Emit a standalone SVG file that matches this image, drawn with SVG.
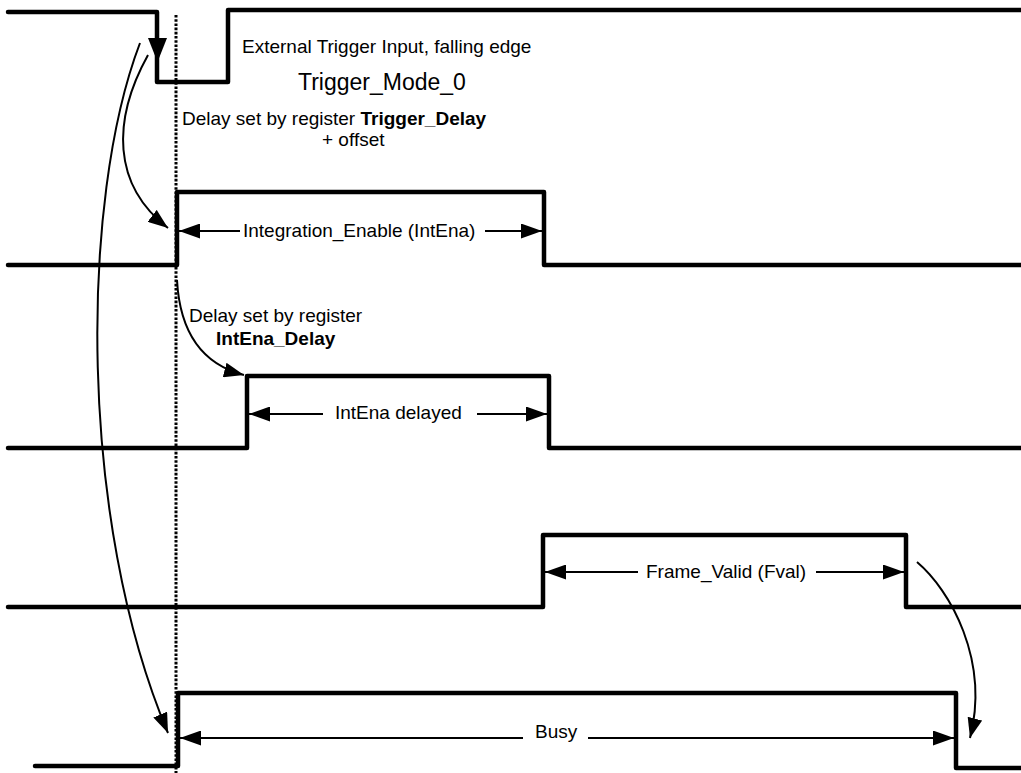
<svg xmlns="http://www.w3.org/2000/svg" width="1021" height="773" viewBox="0 0 1021 773">
<style>
.sig{fill:none;stroke:#000;stroke-width:4.5;stroke-linejoin:round;stroke-linecap:round}
.dim{fill:none;stroke:#000;stroke-width:2}
.cur{fill:none;stroke:#000;stroke-width:2}
.dot{fill:none;stroke:#000;stroke-width:3;stroke-dasharray:2.6 1.6}
text{font-family:"Liberation Sans",Arial,sans-serif;font-size:19px;fill:#000}
.b{font-weight:bold}
</style>
<defs>
<marker id="ad" markerUnits="userSpaceOnUse" markerWidth="21" markerHeight="15" refX="21" refY="7.5" orient="auto"><path d="M0,0 L21,7.5 L0,15 z" fill="#000"/></marker>
<marker id="ac" markerUnits="userSpaceOnUse" markerWidth="20" markerHeight="15" refX="20" refY="7.5" orient="auto"><path d="M0,0 L20,7.5 L0,15 z" fill="#000"/></marker>
</defs>
<g id="timeline-dotted">
<line class="dot" x1="176" y1="15" x2="176" y2="773"/>
</g>
<g id="trigger-signal">
<path class="sig" d="M8,12 H157 V82 H228 V10 H1021"/>
<polygon points="148,38 167,38 157.5,62" fill="#000"/>
<text x="242" y="53">External Trigger Input, falling edge</text>
<text x="298" y="90" style="font-size:23px">Trigger_Mode_0</text>
<text x="182" y="125">Delay set by register <tspan class="b">Trigger_Delay</tspan></text>
<text x="322" y="146">+ offset</text>
</g>
<g id="intena-signal">
<path class="sig" d="M8,265 H177 V192 H544 V265 H1021"/>
<text x="243" y="237">Integration_Enable (IntEna)</text>
</g>
<g id="intena-delayed-signal">
<path class="sig" d="M8,448 H247 V376 H549 V448 H1021"/>
<text x="189" y="322">Delay set by register</text>
<text x="216" y="345" class="b">IntEna_Delay</text>
<text x="335" y="419">IntEna delayed</text>
</g>
<g id="fval-signal">
<path class="sig" d="M8,607 H543 V535 H906 V607 H1021"/>
<text x="646" y="578">Frame_Valid (Fval)</text>
</g>
<g id="busy-signal">
<path class="sig" d="M35,766 H178 V693 H956 V768 H1021"/>
<text x="535" y="738">Busy</text>
</g>
<g id="connectors">
<line class="dim" x1="240" y1="231" x2="179" y2="231" marker-end="url(#ad)"/>
<line class="dim" x1="485" y1="231" x2="542" y2="231" marker-end="url(#ad)"/>
<line class="dim" x1="323" y1="414" x2="249" y2="414" marker-end="url(#ad)"/>
<line class="dim" x1="477" y1="414" x2="547" y2="414" marker-end="url(#ad)"/>
<line class="dim" x1="638" y1="572" x2="545" y2="572" marker-end="url(#ad)"/>
<line class="dim" x1="816" y1="572" x2="904" y2="572" marker-end="url(#ad)"/>
<line class="dim" x1="523" y1="738" x2="180" y2="738" marker-end="url(#ad)"/>
<line class="dim" x1="588" y1="738" x2="954" y2="738" marker-end="url(#ad)"/>
<path class="cur" d="M148,55 C112,120 112,185 168,228" marker-end="url(#ac)"/>
<path class="cur" d="M140,43 C80,200 78,520 168,733" marker-end="url(#ac)"/>
<path class="cur" d="M177,280 C180,335 205,365 244,375" marker-end="url(#ac)"/>
<path class="cur" d="M917,562 C950,590 990,660 970,738" marker-end="url(#ac)"/>
</g>
</svg>
